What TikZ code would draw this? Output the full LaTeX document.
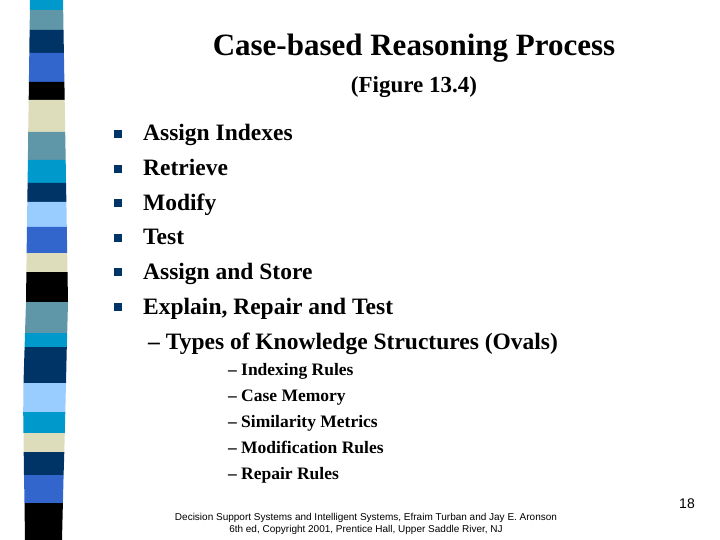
\documentclass[tikz,border=0pt]{standalone}
\usepackage{fontspec}
\setmainfont{Liberation Serif}
\newfontfamily\arial{Liberation Sans}
\definecolor{cC}{HTML}{0099CC}\definecolor{cS}{HTML}{5F96A8}\definecolor{cN}{HTML}{003366}
\definecolor{cR}{HTML}{3366CC}\definecolor{cK}{HTML}{000000}\definecolor{cB}{HTML}{DDDDBB}
\definecolor{cL}{HTML}{99CCFF}
\begin{document}
\begin{tikzpicture}[x=1pt,y=-1pt,
  txt/.style={anchor=base west,inner sep=0pt,font=\fontsize{23.5}{26}\selectfont\bfseries},
  sub/.style={anchor=base west,inner sep=0pt,font=\fontsize{17.5}{19}\selectfont\bfseries},
  bul/.style={fill=cN,minimum size=8pt,inner sep=0pt}]
\path[use as bounding box] (0,0) rectangle (720,540);
\def\pts{0/30/63,10/29.9/63.2,30/29.6/63.5,53/29.3/63.9,82/28.9/64.4,100/28.7/64.7,132/28.2/65.2,160/27.9/65.7,183/27.6/66,202/27.3/66.4,227/27/66.8,253/26.6/67.2,272/26.4/67.5,302/26/68,333/25/67.2,347/24.6/66.8,383/23.5/66,412/23.2/65.3,433/23.5/64.8,452/23.7/64.3,475/24/63.6,503/24.5/62.9,540/25/62}
\def\cols{cC,cS,cN,cR,cK,cB,cS,cC,cN,cL,cR,cB,cK,cS,cC,cN,cL,cC,cB,cN,cR,cK}
\foreach [count=\i] \c in \cols {
  \foreach [count=\j] \y/\l/\r in \pts {
    \ifnum\j=\i \xdef\ya{\y}\xdef\la{\l}\xdef\ra{\r}\fi
    \pgfmathtruncatemacro\k{\i+1}
    \ifnum\j=\k \xdef\yb{\y}\xdef\lb{\l}\xdef\rb{\r}\fi
  }
  \fill[\c] (\la,\ya) -- (\ra,\ya) -- (\rb,\yb) -- (\lb,\yb) -- cycle;
}
\node (title) at (414,48) {\fontsize{31}{36}\selectfont\bfseries Case-based Reasoning Process};
\node (fig) at (414,87) {\fontsize{23}{28}\selectfont\bfseries (Figure 13.4)};
\foreach \t [count=\i] in {Assign Indexes,Retrieve,Modify,Test,Assign and Store,{Explain, Repair and Test}} {
  \pgfmathsetmacro\yy{133+34.6*(\i-1)}
  \node[bul] (b\i) at (118,\yy+1) {};
  \node[txt] (t\i) at (143,\yy+8) {\t};
}
\node[txt] (types) at (148,349) {– Types of Knowledge Structures (Ovals)};
\foreach \t [count=\i] in {Indexing Rules,Case Memory,Similarity Metrics,Modification Rules,Repair Rules} {
  \pgfmathsetmacro\yy{375+26*(\i-1)}
  \node[sub] (d\i) at (228,\yy) {–};
  \node[sub] (s\i) at (241,\yy) {\t};
}
\node (pg) at (687,504) {\arial\fontsize{14}{16}\selectfont 18};
\node[align=center,font=\arial\fontsize{10}{12}\selectfont] (foot) at (366,524) {Decision Support Systems and Intelligent Systems, Efraim Turban and Jay E. Aronson\\6th ed, Copyright 2001, Prentice Hall, Upper Saddle River, NJ};
\end{tikzpicture}
\end{document}
